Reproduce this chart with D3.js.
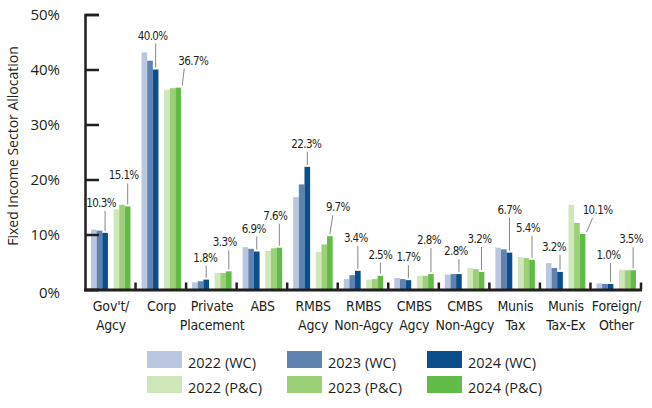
<!DOCTYPE html>
<html>
<head>
<meta charset="utf-8">
<script src="https://cdn.jsdelivr.net/npm/d3@7"></script>
<style>
  body { margin: 0; background: #fff; }
  svg text { fill: #231f20; }
  .tick-label, .legend-label, .axis-title { font-family: "Open Sans", sans-serif; }
  .cat-label, .val-label { font-family: "Liberation Sans Narrow", "DejaVu Sans Condensed", sans-serif; }
</style>
</head>
<body>
<div id="chart"></div>
<script>
// categories, two text lines each
var categories = ["Gov't/|Agcy", "Corp", "Private|Placement", "ABS", "RMBS|Agcy",
                  "RMBS|Non-Agcy", "CMBS|Agcy", "CMBS|Non-Agcy", "Munis|Tax",
                  "Munis|Tax-Ex", "Foreign/|Other"]

var seriesNames = ["2022 (WC)", "2023 (WC)", "2024 (WC)", "2022 (P&C)", "2023 (P&C)", "2024 (P&C)"]

// allocation in percent
var wc2022 = [10.9, 43.1, 1.3, 7.7, 16.8, 1.9, 2.1, 2.7, 7.6, 4.8, 1.1]
var wc2023 = [10.7, 41.6, 1.5, 7.4, 19.1, 2.6, 1.9, 2.8, 7.3, 3.9, 1.0]
var wc2024 = [10.3, 40.0, 1.8, 6.9, 22.3, 3.4, 1.7, 2.8, 6.7, 3.2, 1.0]
var pc2022 = [14.6, 36.3, 3.0, 7.0, 6.8, 1.8, 2.5, 3.9, 5.9, 15.4, 3.6]
var pc2023 = [15.4, 36.6, 3.0, 7.5, 8.2, 1.9, 2.5, 3.7, 5.7, 12.1, 3.5]
var pc2024 = [15.1, 36.7, 3.3, 7.6, 9.7, 2.5, 2.8, 3.2, 5.4, 10.1, 3.5]

var yTicks = [0, 10, 20, 30, 40, 50]

var colors = ["#b9c7e0", "#5f82b0", "#0a4f8c", "#d0e7b9", "#9bcf78", "#62bb46"]

// label placement for the 2024 bars: [dx, lift, line bottom dx, line top dx]
var wcLabelPos = [[-4, 30, 0, 0], [-3, 34, 0, 0], [-1, 22, 0, 0], [-3, 23, 0, 0], [-1, 23, 0, 0],
                  [-2, 33, 0, 0], [0, 23, 0, 0], [-3, 23, 0, 0], [0, 43, 0, 0], [-6, 25, 0, 0], [-2, 29, 0, 0]]
var pcLabelPos = [[-4, 31, 0, 0], [15, 27, 4, 6], [-4, 29, 0, 0], [-4, 32, 0, 0], [8, 29, 0, 3],
                  [0, 21, 0, 0], [-2, 34, 0, 0], [-2, 33, 0, 0], [-4, 32, 0, 0], [15, 24, 4, 10], [-2, 31, 0, 0]]

var w = 652
var h = 408

var svg = d3.select("#chart").append("svg")
  .attr("width", w)
  .attr("height", h)

var series = [wc2022, wc2023, wc2024, pc2022, pc2023, pc2024]

var x0 = d3.scaleBand()
  .domain(categories)
  .range([85, 641])
  .padding(0)

// slot "gap" sits between the WC and P&C bars
var slots = ["s0", "s1", "s2", "gap", "s3", "s4", "s5"]
var x1 = d3.scaleBand()
  .domain(slots)
  .range([6, 45.5])
  .padding(0)

var y = d3.scaleLinear()
  .domain([0, 50])
  .range([289.5, 14.5])

function slotOf(j) { return "s" + j }

// bars
series.forEach(function (vals, j) {
  svg.append("g")
    .selectAll("rect")
    .data(vals)
    .enter()
    .append("rect")
    .attr("x", function (d, i) { return x0(categories[i]) + x1(slotOf(j)) })
    .attr("y", function (d) { return y(d) })
    .attr("width", x1.bandwidth())
    .attr("height", function (d) { return y(0) - y(d) })
    .attr("fill", colors[j])
})

// value labels with leader lines
function addLabels(vals, j, pos) {
  var g = svg.append("g")
  vals.forEach(function (d, i) {
    var cx = x0(categories[i]) + x1(slotOf(j)) + x1.bandwidth() / 2
    var top = y(d)
    var p = pos[i]
    var ty = top - p[1]
    g.append("line")
      .attr("x1", cx + p[2])
      .attr("y1", top - 2)
      .attr("x2", cx + p[3])
      .attr("y2", ty + 8)
      .attr("stroke", "#666")
      .attr("stroke-width", 0.8)
    g.append("text")
      .attr("class", "val-label")
      .attr("x", cx + p[0])
      .attr("y", ty)
      .attr("dy", "0.35em")
      .attr("text-anchor", "middle")
      .attr("font-size", 11.5)
      .attr("letter-spacing", -0.6)
      .text(d.toFixed(1) + "%")
  })
}
addLabels(wc2024, 2, wcLabelPos)
addLabels(pc2024, 5, pcLabelPos)

// y axis
var yAxis = d3.axisLeft(y)
  .tickValues(yTicks)
  .tickSize(-14)
  .tickPadding(25)
  .tickFormat(function (d) { return d + "%" })

var gy = svg.append("g")
  .attr("transform", "translate(85,0)")
  .call(yAxis)
gy.select(".domain").attr("stroke", "#231f20").attr("stroke-width", 2.5)
gy.selectAll(".tick line").attr("stroke", "#231f20").attr("stroke-width", 2.5)
gy.selectAll(".tick text")
  .attr("class", "tick-label")
  .attr("font-size", 15)
  .attr("fill", "#231f20")
  .attr("dy", function (d) { return d == 0 ? "0.55em" : "0.35em" })

// x axis line with small upward ticks between groups
svg.append("line")
  .attr("x1", 84).attr("x2", 642)
  .attr("y1", y(0) + 0.5).attr("y2", y(0) + 0.5)
  .attr("stroke", "#231f20").attr("stroke-width", 3)

svg.append("g")
  .selectAll("line")
  .data(categories)
  .enter()
  .append("line")
  .attr("x1", function (d) { return x0(d) + x0.bandwidth() })
  .attr("x2", function (d) { return x0(d) + x0.bandwidth() })
  .attr("y1", y(0))
  .attr("y2", y(0) - 7)
  .attr("stroke", "#231f20")
  .attr("stroke-width", 2.5)

// category labels
var catText = svg.append("g")
  .selectAll("text")
  .data(categories)
  .enter()
  .append("text")
  .attr("class", "cat-label")
  .attr("text-anchor", "middle")
  .attr("font-size", 14)
  .attr("letter-spacing", -0.2)
  .attr("x", function (d) { return x0(d) + 26 })
  .attr("y", 311)

catText.each(function (d) {
  var parts = d.split("|")
  var t = d3.select(this)
  parts.forEach(function (p, k) {
    t.append("tspan")
      .attr("x", t.attr("x"))
      .attr("dy", k == 0 ? 0 : 19)
      .text(p)
  })
})

// y axis title
svg.append("text")
  .attr("class", "axis-title")
  .attr("transform", "translate(18,146) rotate(-90)")
  .attr("text-anchor", "middle")
  .attr("font-size", 14)
  .text("Fixed Income Sector Allocation")

// legend, 3 columns x 2 rows
var legend = svg.append("g")
  .selectAll("g")
  .data(seriesNames)
  .enter()
  .append("g")
  .attr("transform", function (d, i) {
    var col = i % 3
    var row = Math.floor(i / 3)
    return "translate(" + (147 + col * 140) + "," + (351 + row * 25) + ")"
  })

legend.append("rect")
  .attr("width", 35)
  .attr("height", 17)
  .attr("fill", function (d, i) { return colors[i] })

legend.append("text")
  .attr("class", "legend-label")
  .attr("x", 41)
  .attr("y", 12)
  .attr("dy", "0.35em")
  .attr("font-size", 14.5)
  .text(function (d) { return d })
</script>
</body>
</html>
